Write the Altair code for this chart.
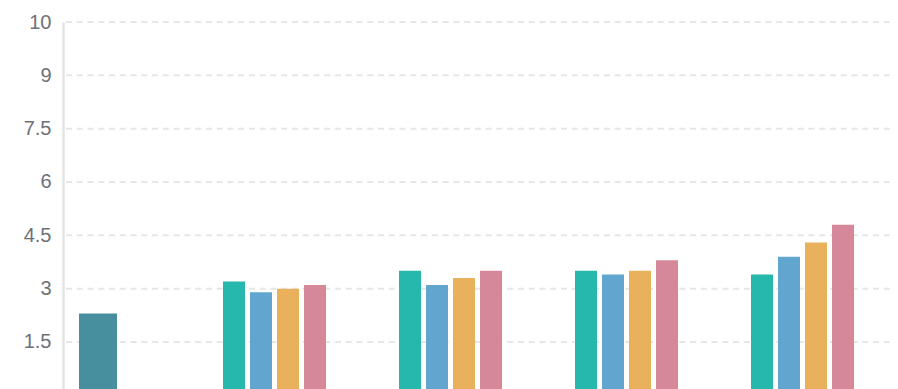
import altair as alt
import pandas as pd

# Category bands along x (labels sit below the visible area)
groups = ["G1", "G2", "G3", "G4", "G5"]

# Single reference bar in the first band
base_group = ["G1"]
base_value = [2.3]
base_color = "#478f9f"

# Four series shown in bands G2..G5
series = ["S1", "S2", "S3", "S4"]
series_groups = ["G2", "G3", "G4", "G5"]
values_s1 = [3.2, 3.5, 3.5, 3.4]
values_s2 = [2.9, 3.1, 3.4, 3.9]
values_s3 = [3.0, 3.3, 3.5, 4.3]
values_s4 = [3.1, 3.5, 3.8, 4.8]
series_colors = ["#26b8ac", "#62a6cf", "#eab15c", "#d5889a"]

# Y axis ticks; the top gridline carries the label "10"
y_ticks = [1.5, 3, 4.5, 6, 7.5, 9, 10.5]

base_df = pd.DataFrame({"group": base_group, "value": base_value})
rows = []
for name, vals in zip(series, [values_s1, values_s2, values_s3, values_s4]):
    for g, v in zip(series_groups, vals):
        rows.append({"group": g, "series": name, "value": v})
series_df = pd.DataFrame(rows)
grid_df = pd.DataFrame({"value": y_ticks})

PLOT_W = 827
PLOT_H = 367

x_enc = alt.X(
    "group:N",
    sort=groups,
    scale=alt.Scale(domain=groups, range=[-53, 827], paddingInner=0, paddingOuter=0),
    axis=None,
)

y_scale = alt.Scale(domain=[0.177, 10.5], zero=False, nice=False)
y_axis = alt.Axis(
    values=y_ticks,
    labelExpr="datum.value == 10.5 ? '10' : format(datum.value, '~g')",
    title=None,
    ticks=False,
    tickSize=0,
    labelPadding=12,
    labelFont="Liberation Sans",
    labelFontSize=20,
    labelColor="#6e7079",
    domain=True,
    domainColor="#e4e4e4",
    domainWidth=2.5,
    grid=False,
)

# Dashed horizontal gridlines across the plot area
grid = (
    alt.Chart(grid_df)
    .mark_rule(color="#e6e6e6", strokeWidth=2, strokeDash=[6, 4.76])
    .encode(
        y=alt.Y("value:Q", scale=y_scale, axis=y_axis),
        x=alt.value(3),
        x2=alt.value(PLOT_W),
    )
)

base_bar = (
    alt.Chart(base_df)
    .mark_bar(size=38, color=base_color, clip=True)
    .encode(x=x_enc, y=alt.Y("value:Q", scale=y_scale, axis=y_axis))
)

series_bars = (
    alt.Chart(series_df)
    .mark_bar(clip=True)
    .encode(
        x=x_enc,
        xOffset=alt.XOffset(
            "series:N",
            sort=series,
            scale=alt.Scale(domain=series, range=[37, 140], paddingInner=0.185, paddingOuter=0),
        ),
        y=alt.Y("value:Q", scale=y_scale, axis=y_axis),
        color=alt.Color(
            "series:N",
            scale=alt.Scale(domain=series, range=series_colors),
            legend=None,
        ),
    )
)

chart = (
    alt.layer(grid, base_bar, series_bars)
    .properties(
        width=PLOT_W,
        height=PLOT_H,
        padding={"left": 63, "top": 22, "right": 8, "bottom": 0},
        autosize=alt.AutoSizeParams(type="none"),
        background="#ffffff",
    )
    .configure_view(stroke=None)
)

chart.save("out.html", embed_options={"renderer": "svg", "actions": False})
